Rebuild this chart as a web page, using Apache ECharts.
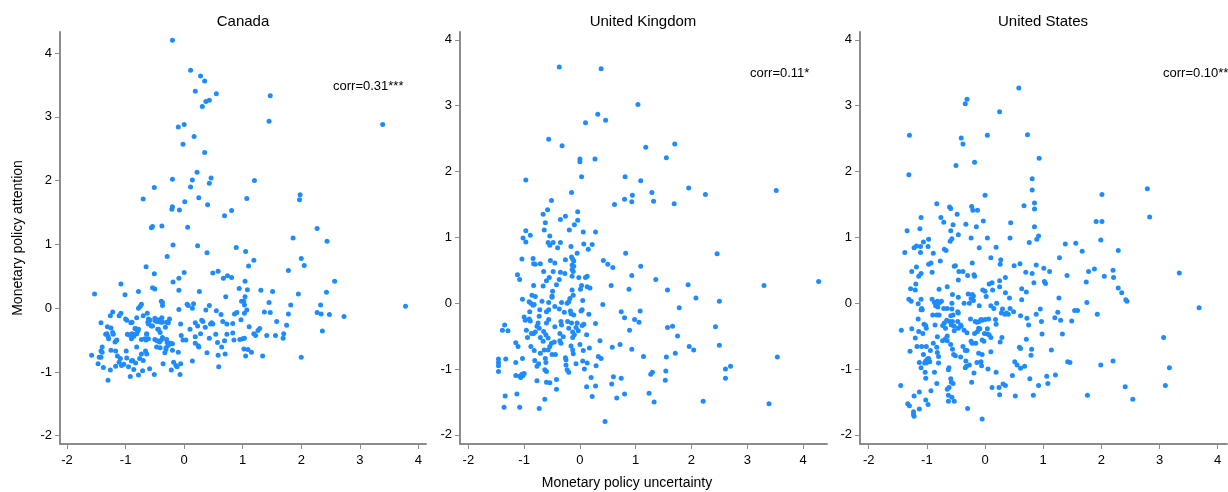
<!DOCTYPE html>
<html>
<head>
<meta charset="utf-8">
<script src="https://cdn.jsdelivr.net/npm/echarts@6/dist/echarts.min.js"></script>
<style>
html,body{margin:0;padding:0;background:#fff;}
#chart{width:1228px;height:492px;}
</style>
</head>
<body>
<div id="chart"></div>
<script>
const panelTitles = ["Canada", "United Kingdom", "United States"];
const corrLabels = ["corr=0.31***", "corr=0.11*", "corr=0.10**"];
const xTicks = [-2, -1, 0, 1, 2, 3, 4];
const yTicks = [-2, -1, 0, 1, 2, 3, 4];
const xAxisTitle = "Monetary policy uncertainty";
const yAxisTitle = "Monetary policy attention";

const canada = [
[-0.2,4.2],[0.11,3.73],[0.28,3.64],[0.35,3.56],[0.19,3.4],[0.55,3.36],[0.43,3.26],[0.37,3.24],[0.31,3.16],[1.47,3.33],[1.45,2.93],[3.39,2.88],[0,2.88],[-0.1,2.84],[0.17,2.69],[-0.02,2.57],[0.35,2.44],[0.22,2.13],[-0.2,2.02],[0.14,2.01],[0.46,2.04],[0.43,1.96],[0.11,1.9],[-0.51,1.89],[1.2,2.0],[1.98,1.78],[1.97,1.7],[1.07,1.72],[-0.7,1.71],[0.25,1.73],[0.01,1.67],[0.4,1.62],[-0.2,1.59],[-0.21,1.55],[-0.08,1.54],[0.81,1.53],[0.69,1.45],[-0.54,1.28],[-0.56,1.26],[-0.38,1.29],[0.06,1.27],[2.27,1.25],[1.86,1.1],[2.44,1.05],[-0.19,0.99],[0.23,0.98],[0.89,0.95],[1.05,0.89],[0.39,0.87],[1.19,0.75],[-0.29,0.81],[2.0,0.78],[2.05,0.67],[1.1,0.66],[-0.65,0.65],[1.78,0.59],[0.58,0.58],[0.49,0.55],[0,0.56],[-0.51,0.54],[-0.09,0.47],[0.74,0.51],[0.81,0.48],[0.67,0.47],[2.57,0.42],[1.04,0.42],[-0.19,0.41],[-1.08,0.38],[-0.54,0.32],[-0.5,0.3],[0.94,0.31],[1.08,0.29],[-0.09,0.28],[1.31,0.28],[0.26,0.26],[-0.78,0.26],[1.51,0.26],[2.43,0.25],[-1.53,0.22],[-1.01,0.21],[1.95,0.22],[0.71,0.18],[1.04,0.18],[-0.39,0.11],[-0.37,0.09],[0.98,0.11],[1.02,0.11],[1.45,0.09],[-0.37,0.04],[1.03,0.05],[1.82,0.05],[2.33,0.05],[3.78,0.03],[-0.73,0.06],[-0.75,0.03],[-0.78,0],[0.05,0.06],[0.07,0.04],[0.16,0.07],[0.14,0],[0.43,0.04],[-0.09,-0.02],[0.37,-0.03],[0.55,-0.04],[1.07,-0.03],[1.37,-0.06],[1.47,-0.07],[1.03,-0.08],[0.9,-0.07],[0.86,-0.09],[1.78,-0.09],[2.27,-0.07],[2.34,-0.09],[2.48,-0.1],[2.73,-0.13],[0.63,-0.1],
[-1.22,-0.06],[-1.08,-0.08],[-1.26,-0.12],[-1.11,-0.12],[-1.42,-0.23],[-1.0,-0.17],[-0.91,-0.23],[-0.89,-0.22],[-0.81,-0.15],[-0.7,-0.12],[-0.63,-0.08],[-0.62,-0.22],[-0.61,-0.25],[-0.58,-0.19],[-0.54,-0.28],[-0.5,-0.16],[-0.49,-0.2],[-0.46,-0.21],[-0.42,-0.18],[-0.4,-0.22],[-0.38,-0.15],[-0.37,-0.22],[-0.3,-0.22],[-0.27,-0.23],[-0.25,-0.17],[-0.06,-0.25],[0.19,-0.23],[0.23,-0.28],[0.3,-0.19],[0.32,-0.21],[0.36,-0.3],[0.45,-0.25],[0.47,-0.23],[0.49,-0.25],[0.66,-0.21],[0.73,-0.25],[0.83,-0.24],[0.97,-0.18],[1.11,-0.29],[1.29,-0.32],[1.26,-0.35],[1.58,-0.21],[1.75,-0.27],[2.36,-0.36],
[-1.32,-0.4],[-1.22,-0.38],[-1.29,-0.48],[-1.15,-0.5],[-1.18,-0.53],[-0.97,-0.41],[-0.89,-0.4],[-0.86,-0.44],[-0.83,-0.32],[-0.79,-0.36],[-0.81,-0.4],[-0.73,-0.49],[-0.67,-0.48],[-0.64,-0.41],[-0.65,-0.5],[-0.61,-0.48],[-0.5,-0.49],[-0.46,-0.51],[-0.42,-0.53],[-0.39,-0.5],[-0.44,-0.33],[-0.41,-0.38],[-0.37,-0.46],[-0.29,-0.54],[-0.27,-0.58],[-0.23,-0.55],[-0.2,-0.56],[-0.31,-0.62],[-0.05,-0.43],[-0.02,-0.5],[0.03,-0.5],[0.1,-0.33],[0.19,-0.45],[0.28,-0.4],[0.19,-0.55],[0.24,-0.59],[0.43,-0.47],[0.54,-0.41],[0.57,-0.54],[0.64,-0.61],[0.69,-0.51],[0.73,-0.41],[0.83,-0.39],[0.85,-0.5],[0.95,-0.49],[1.0,-0.48],[1.03,-0.47],[1.19,-0.4],[1.22,-0.43],[1.41,-0.43],[1.56,-0.43],[1.7,-0.4],[1.69,-0.47],
[-1.58,-0.74],[-1.47,-0.87],[-1.42,-0.77],[-1.4,-0.69],[-1.38,-0.93],[-1.3,-1.13],[-1.26,-0.97],[-1.25,-0.66],[-1.17,-0.67],[-1.17,-0.91],[-1.14,-0.75],[-1.11,-0.85],[-1.09,-0.79],[-1.07,-0.9],[-1.03,-0.88],[-0.99,-0.67],[-0.98,-0.78],[-0.95,-0.92],[-0.92,-1.07],[-0.9,-0.83],[-0.88,-0.82],[-0.86,-0.96],[-0.83,-0.86],[-0.81,-0.61],[-0.78,-1.05],[-0.76,-0.79],[-0.73,-0.72],[-0.71,-0.98],[-0.7,-0.82],[-0.66,-0.67],[-0.64,-0.72],[-0.59,-0.95],[-0.51,-1.04],[-0.47,-0.61],[-0.41,-0.62],[-0.36,-0.87],[-0.33,-0.7],[-0.31,-0.65],[-0.22,-0.97],[-0.18,-0.85],[-0.14,-0.9],[-0.12,-0.92],[-0.1,-0.69],[-0.07,-1.04],[-0.06,-0.87],[0.14,-0.83],[0.25,-0.61],[0.39,-0.7],[0.59,-0.92],[0.58,-0.74],[0.7,-0.72],[1.02,-0.64],[1.05,-0.75],[1.09,-0.65],[1.15,-0.69],[1.34,-0.75],[2.0,-0.77],
[-1.31,-0.29],[-1.25,-0.31],[-1.34,-0.41],[-1.3,-0.44],[-1.21,-0.41],[-1.16,-0.51],[-1.4,-0.61],[-1.42,-0.67],[-1.45,-0.77],[-0.98,-0.19],[-0.94,-0.42],[-0.9,-0.48],[-0.82,-0.4],[-0.84,-0.32],[-0.78,-0.33],[-0.64,-0.4],[-0.61,-0.17],[-0.56,-0.28],[-0.47,-0.18],[-0.45,-0.33],[-0.32,-0.3],[-0.3,-0.49],[-0.26,-0.55],[-0.2,-0.66]
];

const uk = [
[-0.37,3.59],[0.38,3.56],[1.04,3.02],[0.32,2.87],[0.46,2.78],[0.1,2.74],[-0.56,2.49],[-0.32,2.39],[1.18,2.37],[1.7,2.42],[1.55,2.21],[0,2.19],[0,2.15],[0.27,2.19],[-0.97,1.87],[0.03,1.92],[0.81,1.92],[1.09,1.86],[1.95,1.75],[3.52,1.71],[2.25,1.65],[1.29,1.68],[-0.15,1.68],[0.94,1.64],[0.8,1.58],[0.93,1.54],[1.32,1.55],[1.69,1.51],[0.62,1.5],[-0.51,1.56],[-0.58,1.42],[-0.04,1.39],[-0.66,1.35],[-0.26,1.32],[-0.35,1.27],[-0.62,1.22],[-0.04,1.26],[-0.1,1.19],[-0.19,1.11],[-0.64,1.11],[-0.97,1.1],[0.06,1.08],[0.28,1.08],[-0.89,1.03],[-0.54,1.02],[-1.02,0.99],[-0.97,0.93],[-0.57,0.92],[-0.48,0.92],[-0.35,0.92],[-0.54,0.88],[0.07,0.9],[0.22,0.89],[-0.4,0.84],[-0.16,0.86],[0.15,0.82],[-0.05,0.76],[0.82,0.76],[2.46,0.75],[-0.15,0.7],[-0.13,0.67],[-0.11,0.64],[-0.26,0.66],[-1.04,0.67],[-0.84,0.68],[-0.83,0.6],[-0.8,0.59],[-0.71,0.6],[-0.53,0.65],[-0.45,0.61],[0.42,0.65],[0.5,0.59],[0.59,0.54],[1.09,0.56],[-0.14,0.58],[-0.11,0.56],[-0.14,0.51],[-0.12,0.48],[-0.48,0.48],[-0.65,0.48],[-0.35,0.47],[-1.12,0.43],[-1.08,0.36],[-0.27,0.45],[-0.14,0.41],[0.93,0.42],[1.36,0.36],[0.1,0.39],[0.13,0.41],[-0.02,0.39],[-0.55,0.39],[-0.37,0.36],[-0.6,0.34],[-0.42,0.28],[-0.83,0.27],[-0.66,0.26],[0.03,0.27],[0.01,0.21],[0.13,0.25],[0.18,0.23],[0.56,0.27],[0.88,0.21],[1.57,0.2],[1.94,0.28],[3.3,0.27],[4.28,0.33],[-0.49,0.18],[-0.14,0.2],[-0.86,0.12],[-0.8,0.1],[-0.5,0.11],[-0.5,0.09],[-0.12,0.12],[-0.18,0.07],[-1.03,0.06],[-0.91,0.02],[-0.88,0],[-0.84,-0.03],[-0.82,-0.02],[-0.56,0.01],[-0.68,0.03],[-0.33,0.01],[-0.23,0],[-0.2,0.02],[0.05,0.04],[0.41,-0.02],[2.08,0.08],[2.5,0.03],[1.78,-0.07],[-0.45,-0.05],[-0.37,-0.09],[-0.72,-0.1],[-0.9,-0.13],[-1.0,-0.21],[-0.98,-0.26],[-0.91,-0.24],[-0.89,-0.27],[-0.73,-0.2],[-0.56,-0.1],[-0.6,-0.13],[-0.28,-0.14],[-0.17,-0.12],[-0.16,-0.16],[-0.11,-0.18],[0.02,-0.12],[0.04,-0.1],[0.16,-0.17],[0.74,-0.13],[0.8,-0.22],[1.08,-0.12],[0.98,-0.25],[1.06,-0.29],[0.89,-0.41],[1.57,-0.37],[1.66,-0.35],[1.75,-0.5],[2.43,-0.36],[2.5,-0.64],[1.96,-0.66],[2.04,-0.71],[1.71,-0.76],[1.55,-0.82],[3.54,-0.82],[2.7,-0.96],[2.61,-1.0],[2.61,-1.14],[3.39,-1.53],[2.21,-1.49],[1.33,-1.5],[1.24,-1.37],[1.27,-1.08],[1.3,-1.05],[1.54,-1.03],[1.53,-1.17],[1.14,-0.81],[0.93,-0.7],[0.72,-0.63],[0.58,-0.67],[0.36,-0.57],[0.28,-0.31],[0.12,-0.48],[0.06,-0.72],[0.17,-0.68],[0.33,-0.81],[0.38,-0.84],[0.05,-0.88],[0.13,-0.91],[0.29,-0.95],[0.08,-1.0],[-0.07,-0.92],[-0.2,-1.05],[-0.23,-1.01],[-0.25,-0.94],[-0.25,-0.86],[-0.26,-0.83],[-0.12,-0.77],[-0.13,-0.71],[-0.16,-0.65],[0,-0.63],[0.12,-1.27],[0.2,-1.13],[0.28,-1.26],[0.22,-1.42],[0.6,-1.12],[0.57,-1.23],[0.74,-1.14],[0.8,-1.38],[0.66,-1.44],[0.45,-1.8],[-0.63,-1.46],[-0.73,-1.6],[-1.08,-1.58],[-1.36,-1.58],[-1.34,-1.41],[-1.13,-1.38],[-0.77,-1.18],[-0.6,-1.2],[-0.54,-1.21],[-0.42,-1.16],[-0.42,-1.31],[-1.15,-1.1],[-1.08,-1.11],[-1.06,-1.13],[-1.02,-1.1],[-1.0,-1.07],[-1.04,-1.08],[-1.15,-0.9],[-1.03,-0.84],[-1.46,-0.85],[-1.46,-0.9],[-1.46,-0.95],[-1.46,-1.04],[-1.33,-0.85],[-1.39,-0.41],[-1.35,-0.33],[-1.29,-0.42],[-1.15,-0.6],[-1.11,-0.66],[-0.88,-0.66],[-0.82,-0.72],[-0.81,-0.87],[-0.77,-0.96],[-0.74,-0.92],[-0.71,-0.76],[-0.66,-0.58],[-0.64,-0.71],[-0.62,-0.84],[-0.61,-0.9],[-0.63,-1.01],[-0.6,-1.04],[-0.57,-0.71],[-0.54,-0.66],[-0.51,-0.61],[-0.5,-0.78],[-0.46,-0.59],[-0.44,-0.78],[-0.36,-0.57],[-0.34,-0.61],[-0.3,-0.51],[-0.36,-0.46],[-0.45,-0.36],[-0.56,-0.25],[-0.6,-0.3],[-0.65,-0.43],[-0.61,-0.48],[-0.57,-0.53],[-0.77,-0.35],[-0.75,-0.3],[-0.73,-0.38],[-0.8,-0.44],[-0.83,-0.46],[-0.96,-0.41],[-0.94,-0.52],[-0.87,-0.46],[-0.71,-0.52],[-0.22,-0.28],[-0.2,-0.38],[-0.15,-0.3],[-0.13,-0.44],[-0.1,-0.48],[-0.13,-0.52],[-0.07,-0.37],[-0.03,-0.42],[0.04,-0.34],[0.07,-0.32],[-0.05,-0.3],[-0.34,-0.28],[-0.33,-0.33]
];

const us = [
[0.58,3.27],[-0.31,3.1],[-0.34,3.03],[0.25,2.91],[-1.3,2.55],[0.04,2.55],[0.73,2.56],[-0.41,2.51],[-0.38,2.42],[0.93,2.2],[-0.18,2.14],[-0.5,2.09],[-1.31,1.95],[0.81,1.89],[0.81,1.72],[2.79,1.74],[2.01,1.65],[0,1.64],[0.85,1.52],[0.85,1.43],[0.67,1.48],[-0.83,1.51],[-0.61,1.46],[-0.59,1.44],[-0.23,1.47],[-0.21,1.41],[-0.13,1.41],[-0.48,1.35],[-1.1,1.3],[-0.76,1.3],[2.83,1.31],[-0.03,1.25],[1.91,1.24],[2.01,1.24],[-0.71,1.23],[0.44,1.22],[-0.33,1.2],[-0.15,1.16],[0.85,1.16],[-0.55,1.19],[-1.34,1.1],[-1.12,1.13],[-0.59,1.1],[-0.46,1.04],[0.92,1.02],[0.89,0.97],[-0.24,0.99],[0.04,0.99],[0.43,0.99],[-0.57,0.98],[-0.97,0.97],[1.99,0.96],[-1.06,0.93],[-0.6,0.94],[0.76,0.92],[1.38,0.9],[1.56,0.91],[-1.18,0.87],[-1.11,0.86],[-1.22,0.84],[-0.98,0.86],[-0.1,0.84],[0.19,0.85],[-0.7,0.82],[-0.67,0.8],[1.67,0.79],[2.29,0.8],[-1.38,0.77],[-1.11,0.77],[-0.89,0.76],[1.28,0.69],[0.1,0.69],[-0.77,0.64],[0.27,0.66],[0.26,0.59],[-0.97,0.59],[-0.93,0.61],[-0.22,0.61],[0.6,0.6],[0.5,0.57],[-0.53,0.56],[-0.51,0.57],[0.88,0.58],[-1.18,0.55],[1.01,0.53],[1.88,0.52],[2.2,0.5],[-1.26,0.48],[-0.91,0.47],[-0.45,0.48],[-0.38,0.48],[0.7,0.47],[1.11,0.48],[1.78,0.48],[3.34,0.46],[-1.1,0.45],[-1.14,0.41],[-0.3,0.42],[-0.19,0.43],[-0.18,0.41],[0.81,0.45],[1.41,0.42],[2.05,0.41],[2.21,0.39],[0.35,0.39],[-0.46,0.35],[0.25,0.34],[0.84,0.31],[1.02,0.33],[1.04,0.3],[1.74,0.32],[-1.19,0.29],[0.12,0.31],[0.07,0.29],[-0.65,0.25],[0.25,0.25],[2.29,0.23],[-1.28,0.22],[-1.2,0.2],[-0.04,0.2],[0,0.18],[0.13,0.2],[0.63,0.22],[0.71,0.17],[2.35,0.16],[-0.79,0.21],[0.35,0.16],[-0.56,0.13],[-0.29,0.14],[-0.22,0.13],[-0.2,0.11],[0.02,0.1],[-0.46,0.09],[-0.24,0.07],[0.42,0.08],[1.27,0.08],[-1.31,0.06],[-1.27,0.03],[-1.1,0.06],[-0.91,0.06],[-0.82,0.03],[-0.82,0],[-0.78,0.01],[-0.87,0.01],[-0.75,0.03],[-0.57,0],[-0.36,0],[-0.27,0],[-0.2,0.04],[0.63,0.05],[1.75,0.01],[2.42,0.05],[2.44,0.03],[3.68,-0.07],[-1.15,-0.01],[-1.09,-0.08],[-1.1,-0.1],[-0.85,-0.04],[-0.81,-0.06],[-0.71,-0.08],[-0.65,-0.08],[-0.57,-0.09],[-0.47,-0.13],[-0.46,-0.15],[-0.1,-0.04],[0.1,-0.04],[0.2,0],[0.15,-0.08],[0.3,-0.09],[0.43,-0.08],[0.49,-0.13],[0.37,-0.15],[0.4,-0.17],[0.34,-0.17],[0.28,-0.15],[0.95,-0.09],[0.88,-0.17],[1.25,-0.14],[1.2,-0.22],[1.3,-0.26],[1.54,-0.11],[1.59,-0.11],[1.93,-0.17],[1.49,-0.27],[0.61,-0.19],[0.72,-0.23],[0.75,-0.33],[0.97,-0.28],[0.98,-0.47],[1.33,-0.47],[1.14,-0.71],[0.71,-0.55],[0.59,-0.67],[0.61,-0.69],[0.8,-0.7],[0.79,-0.79],[1.42,-0.89],[1.46,-0.9],[2.2,-0.88],[1.99,-0.94],[3.07,-0.52],[3.17,-0.98],[3.1,-1.25],[2.41,-1.27],[2.54,-1.46],[1.76,-1.4],[1.21,-1.09],[1.06,-1.11],[1.08,-1.22],[0.92,-1.25],[0.77,-1.15],[0.83,-1.4],[0.52,-1.41],[0.47,-1.1],[0.55,-0.94],[0.51,-0.89],[0.61,-0.99],[0.68,-0.96],[0.31,-1.23],[0.35,-1.25],[0.24,-1.28],[0.25,-1.39],[0.12,-1.28],[0.05,-1.0],[0.19,-1.05],[-0.05,-1.76],[-0.3,-1.6],[-0.23,-1.2],[-0.19,-1.06],[-0.34,-0.98],[-0.32,-0.96],[-0.27,-0.94],[-0.14,-0.9],[-0.07,-0.89],[-0.06,-0.95],[-0.42,-0.82],[-0.33,-0.88],[-0.31,-0.72],[-0.38,-0.66],[-0.22,-0.61],[-0.24,-0.58],[-0.16,-0.61],[-0.18,-0.46],[-0.11,-0.76],[-0.05,-0.78],[-0.02,-0.58],[-0.05,-0.56],[0.04,-0.47],[0.07,-0.48],[0.1,-0.52],[0.1,-0.74],[0.26,-0.59],[0.29,-0.52],[0.19,-0.32],[0.18,-0.25],[0.06,-0.24],[0,-0.25],[-0.07,-0.25],[-0.1,-0.28],[-0.05,-0.26],[-0.17,-0.28],[-0.14,-0.29],[-0.25,-0.24],[-0.11,-0.38],[-0.09,-0.39],[-0.01,-0.46],[0.04,-0.39],[-0.13,-0.43],[-0.31,-0.45],[-0.36,-0.41],[-0.42,-0.33],[-0.41,-0.35],[-0.46,-0.38],[-0.47,-0.28],[-0.58,-0.33],[-0.53,-0.35],[-0.53,-0.42],[-0.56,-0.28],[-0.55,-0.18],[-0.59,-0.19],[-0.61,-0.28],[-0.66,-0.26],[-0.7,-0.3],[-0.68,-0.38],[-0.73,-0.34],[-0.79,-0.18],[-0.83,-0.18],[-0.9,-0.18],[-0.86,-0.33],[-0.82,-0.51],[-0.89,-0.61],[-0.83,-0.67],[-0.82,-0.75],[-0.94,-0.72],[-0.8,-0.91],[-0.87,-1.05],[-0.83,-1.22],[-0.93,-1.33],[-1.02,-1.47],[-0.98,-1.54],[-1.13,-1.35],[-1.13,-1.61],[-1.22,-1.41],[-1.23,-1.65],[-1.22,-1.72],[-1.23,-1.69],[-1.33,-1.53],[-1.3,-1.56],[-1.45,-1.25],[-1.44,-0.41],[-1.29,-0.73],[-1.26,-0.39],[-1.2,-0.53],[-1.17,-0.66],[-1.15,-0.24],[-1.14,-0.43],[-1.07,-0.46],[-1.09,-0.66],[-1.13,-0.9],[-1.1,-0.98],[-1.04,-0.91],[-1.02,-0.88],[-1.01,-0.91],[-0.99,-0.85],[-0.97,-0.84],[-1.06,-0.78],[-1.01,-0.66],[-1.03,-1.05],[-1.02,-1.14],[-1.05,-0.32],[-1.02,-0.34],[-1.01,-0.38],[-1.08,-0.1],[-0.95,-0.89],[-0.8,-0.81],[-0.73,-0.57],[-0.68,-0.54],[-0.65,-0.5],[-0.65,-0.57],[-0.63,-1.01],[-0.62,-0.98],[-0.59,-1.15],[-0.58,-1.2],[-0.55,-1.22],[-0.65,-1.31],[-0.62,-1.28],[-0.63,-1.4],[-0.63,-1.49],[-0.57,-1.43],[-0.53,-1.49],[-0.56,-0.7],[-0.54,-0.78],[-0.51,-0.8],[-0.59,-0.63],[-0.34,-0.72]
];

const panelData = [canada, uk, us];
// axis extents (data units) for each panel
const xMin = [-2.12, -2.15, -2.15];
const xMax = [4.13, 4.43, 4.16];
const yMin = [-2.13, -2.14, -2.14];
const yMax = [4.33, 4.12, 4.12];

const gridBoxes = [
  {left: 60, top: 32, width: 366, height: 412},
  {left: 460, top: 32, width: 367, height: 412},
  {left: 860, top: 32, width: 367, height: 412}
];

const FONT = "'Liberation Sans', Arial, sans-serif";
const axisColor = '#8c8c8c';
const dotColor = '#1e8cff';

const chart = echarts.init(document.getElementById('chart'), null, {renderer: 'canvas'});

const grids = [], xAxes = [], yAxes = [], series = [];
for (let i = 0; i < 3; i++) {
  grids.push(Object.assign({containLabel: false}, gridBoxes[i]));
  xAxes.push({
    type: 'value', gridIndex: i, min: xMin[i], max: xMax[i],
    axisLine: {show: true, onZero: false, lineStyle: {color: axisColor, width: 2}},
    axisTick: {show: true, inside: false, length: 5, customValues: xTicks, lineStyle: {color: axisColor, width: 1}},
    axisLabel: {show: true, margin: 10, customValues: xTicks, color: '#000', fontSize: 13, fontFamily: FONT},
    splitLine: {show: false}
  });
  yAxes.push({
    type: 'value', gridIndex: i, min: yMin[i], max: yMax[i],
    axisLine: {show: true, onZero: false, lineStyle: {color: axisColor, width: 2}},
    axisTick: {show: true, inside: false, length: 5, customValues: yTicks, lineStyle: {color: axisColor, width: 1}},
    axisLabel: {show: true, margin: 8, customValues: yTicks, color: '#000', fontSize: 13, fontFamily: FONT},
    splitLine: {show: false}
  });
  series.push({
    type: 'scatter', xAxisIndex: i, yAxisIndex: i,
    data: panelData[i], symbol: 'circle', symbolSize: 5,
    itemStyle: {color: dotColor, opacity: 1},
    silent: true, animation: false
  });
}

const titleCenters = [243, 643, 1043];
const corrPos = [[333, 86], [750, 73], [1163, 73]];
const graphics = [];
for (let i = 0; i < 3; i++) {
  graphics.push({type: 'text', x: titleCenters[i], y: 22,
    style: {text: panelTitles[i], font: '15px ' + FONT, fill: '#000', textAlign: 'center', textVerticalAlign: 'middle'}});
  graphics.push({type: 'text', x: corrPos[i][0], y: corrPos[i][1],
    style: {text: corrLabels[i], font: '13px ' + FONT, fill: '#000', textAlign: 'left', textVerticalAlign: 'middle'}});
}
graphics.push({type: 'text', x: 627, y: 483,
  style: {text: xAxisTitle, font: '14px ' + FONT, fill: '#000', textAlign: 'center', textVerticalAlign: 'middle'}});
graphics.push({type: 'text', x: 18, y: 238, rotation: Math.PI / 2,
  style: {text: yAxisTitle, font: '14px ' + FONT, fill: '#000', textAlign: 'center', textVerticalAlign: 'middle'}});

chart.setOption({
  backgroundColor: '#ffffff',
  animation: false,
  grid: grids,
  xAxis: xAxes,
  yAxis: yAxes,
  series: series,
  graphic: graphics
});
</script>
</body>
</html>
